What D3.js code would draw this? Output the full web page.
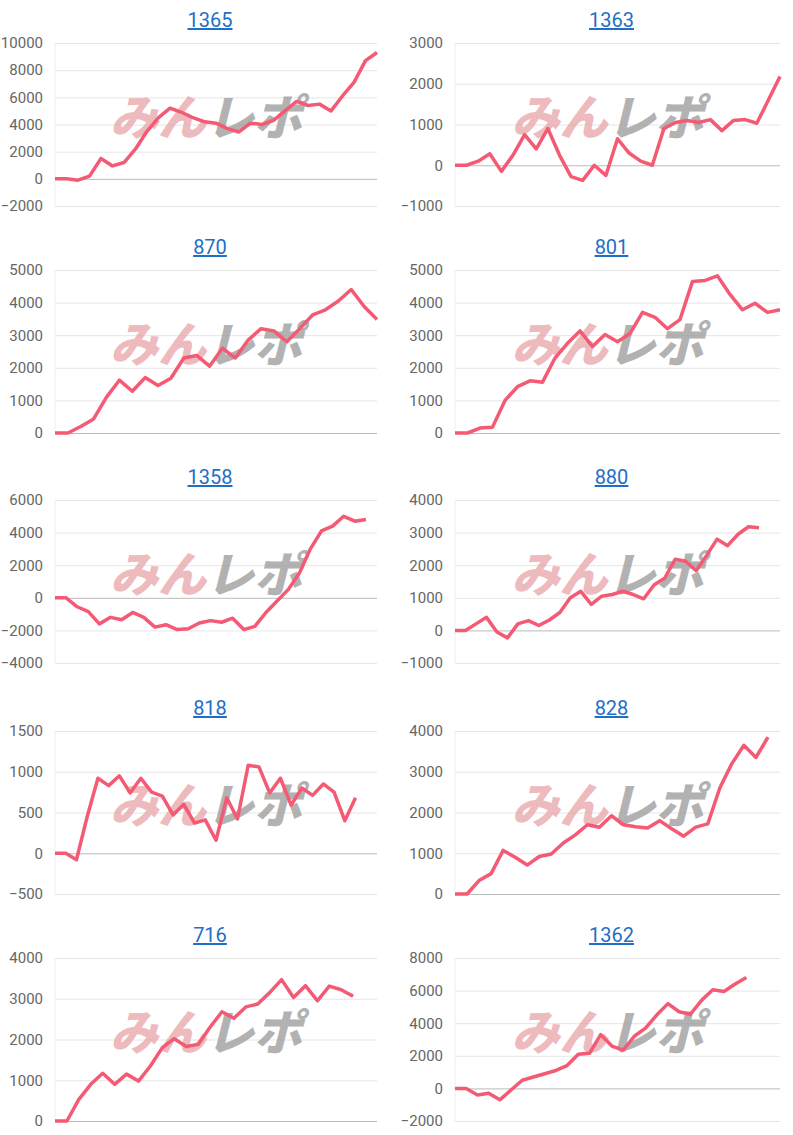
<!DOCTYPE html>
<html>
<head>
<meta charset="utf-8">
<script src="https://cdn.jsdelivr.net/npm/d3@7"></script>
<style>
body { margin: 0; background: #fff; font-family: "Liberation Sans Narrow", Roboto, sans-serif; }
.tick text { fill: #666; font-size: 15px; font-family: "Liberation Sans Narrow", Roboto, sans-serif; }
.title { fill: #1f6fc6; font-size: 20px; text-decoration: underline; font-family: "Liberation Sans Narrow", Roboto, sans-serif; }
</style>
</head>
<body>
<script>
// chart titles
var titles = ["1365", "1363", "870", "801", "1358", "880", "818", "828", "716", "1362"];

// series values
var s1365 = [0,0,-100,200,1500,950,1200,2200,3500,4500,5200,4900,4500,4200,4100,3700,3450,4100,4000,4300,5000,5700,5400,5500,5000,6100,7100,8700,9300];
var s1363 = [0,0,100,280,-150,250,750,400,900,250,-280,-370,0,-250,650,300,100,0,900,1050,1100,1050,1120,850,1100,1120,1030,1600,2180];
var s870 = [0,0,200,430,1100,1620,1280,1700,1460,1680,2300,2380,2050,2600,2300,2850,3200,3130,2800,3200,3620,3780,4050,4400,3880,3480];
var s801 = [0,0,150,180,1000,1420,1600,1560,2300,2750,3130,2650,3020,2800,3050,3700,3550,3200,3480,4650,4680,4820,4250,3780,3980,3700,3780];
var s1358 = [0,0,-550,-850,-1600,-1200,-1350,-900,-1200,-1800,-1650,-1950,-1900,-1550,-1400,-1500,-1250,-1950,-1750,-900,-200,500,1500,3000,4100,4400,5000,4700,4800];
var s880 = [0,0,200,400,-50,-230,200,300,150,320,550,1000,1200,800,1050,1100,1200,1100,970,1400,1600,2180,2120,1830,2300,2800,2600,2950,3180,3150];
var s818 = [0,0,-80,450,920,830,950,740,920,750,700,470,600,370,410,160,680,420,1080,1060,740,920,590,800,710,850,750,400,680];
var s828 = [0,0,330,500,1070,900,710,920,980,1250,1450,1700,1640,1920,1700,1650,1620,1800,1600,1420,1640,1720,2600,3200,3650,3350,3850];
var s716 = [0,0,530,900,1170,900,1150,980,1350,1800,2020,1830,1880,2300,2680,2520,2800,2870,3150,3470,3030,3320,2950,3310,3220,3060];
var s1362 = [0,0,-400,-300,-700,-100,500,700,900,1100,1400,2100,2150,3300,2600,2350,3200,3700,4500,5200,4700,4550,5400,6050,5950,6400,6800];
var series = [s1365, s1363, s870, s801, s1358, s880, s818, s828, s716, s1362];

// number of x slots per chart (some series stop early)
var slots = [29, 29, 26, 27, 30, 32, 31, 28, 28, 30];

// y tick labels
var yTicks = [
  [-2000,0,2000,4000,6000,8000,10000],
  [-1000,0,1000,2000,3000],
  [0,1000,2000,3000,4000,5000],
  [0,1000,2000,3000,4000,5000],
  [-4000,-2000,0,2000,4000,6000],
  [-1000,0,1000,2000,3000,4000],
  [-500,0,500,1000,1500],
  [0,1000,2000,3000,4000],
  [0,1000,2000,3000,4000],
  [-2000,0,2000,4000,6000,8000]
];

var svg = d3.select("body").append("svg")
  .attr("width", 793).attr("height", 1135);

var colLeft = [55, 455], colRight = [377, 780];
var rowTop = [43, 270, 500, 731, 958];
var plotH = 163;

titles.forEach(function(t, i) {
  var col = i % 2, row = Math.floor(i / 2);
  var x0 = colLeft[col], x1 = colRight[col];
  var top = rowTop[row];
  var ticks = yTicks[i];

  var xScale = d3.scaleLinear().domain([0, slots[i] - 1]).range([x0, x1]);
  var yScale = d3.scaleLinear().domain([ticks[0], ticks[ticks.length - 1]]).range([top + plotH, top]);

  var g = svg.append("g");

  // title
  g.append("text").attr("class", "title")
    .attr("x", (x0 + x1) / 2 - 6).attr("y", top - 16)
    .attr("text-anchor", "middle").text(t);

  // grid + y axis
  var yAxis = d3.axisLeft(yScale).tickValues(ticks).tickFormat(d3.format("d"))
    .tickSize(-(x1 - x0)).tickPadding(12);
  var ax = g.append("g").attr("transform", `translate(${x0},0)`).call(yAxis);
  ax.select(".domain").remove();
  ax.selectAll(".tick line").attr("stroke", d => d === 0 ? "#bbb" : "#e6e6e6");

  // y axis line
  g.append("line").attr("x1", x0).attr("x2", x0)
    .attr("y1", top).attr("y2", top + plotH).attr("stroke", "#eee");

  // watermark
  var wm = g.append("text")
    .attr("x", (x0 + x1) / 2 - 10).attr("y", top + 92)
    .attr("text-anchor", "middle")
    .style("font-size", "48px").style("font-weight", "900").style("font-style", "italic")
    .style("font-family", "'Noto Sans CJK JP', sans-serif");
  wm.append("tspan").attr("fill", "#e8a3a8").attr("opacity", 0.75).text("みん");
  wm.append("tspan").attr("fill", "#999").attr("opacity", 0.75).text("レポ");

  // line
  var line = d3.line().x((d, j) => xScale(j)).y(d => yScale(d));
  g.append("path").datum(series[i])
    .attr("fill", "none").attr("stroke", "#f45a74")
    .attr("stroke-width", 3.5).attr("stroke-linejoin", "round")
    .attr("d", line);
});
</script>
</body>
</html>
